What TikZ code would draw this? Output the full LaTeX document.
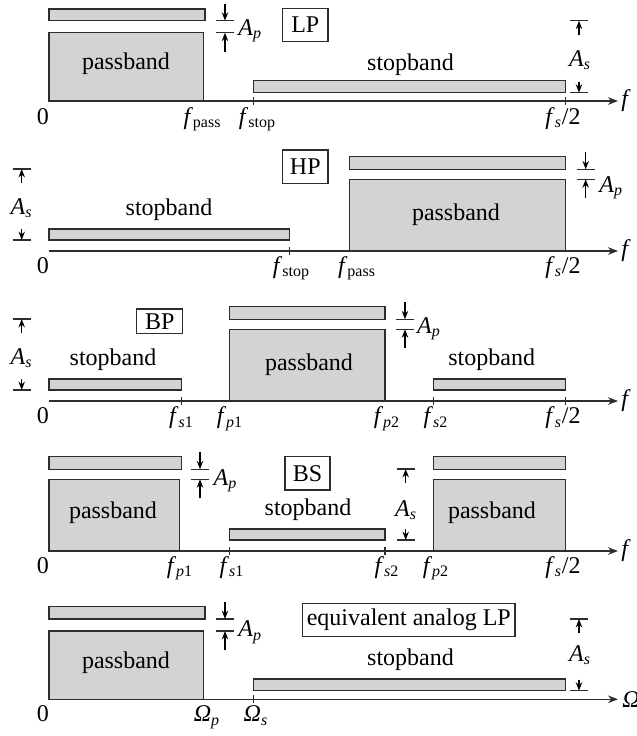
\documentclass[tikz,border=0pt]{standalone}
\usepackage{fontspec}
\setmainfont{Liberation Serif}
\usetikzlibrary{arrows.meta}
\definecolor{bandfill}{RGB}{211,211,211}
\definecolor{edgecol}{RGB}{45,45,45}
\newcommand\apmark[3]{%
  \draw[dimline] (#1-9,#2) -- (#1+9,#2) (#1-9,#3) -- (#1+9,#3);
  \draw[dimarr] (#1,#2-17) -- (#1,#2);
  \draw[dimarr] (#1,#3+19) -- (#1,#3);}
\newcommand\asmark[3]{%
  \draw[dimline] (#1-9,#2) -- (#1+9,#2) (#1-9,#3) -- (#1+9,#3);
  \draw[dimarr] (#1,#2+14) -- (#1,#2);
  \draw[dimarr] (#1,#3-11) -- (#1,#3);}
\newcommand\tickat[2]{\draw[tickline] (#1,#2-4) -- (#1,#2+4);}
\newcommand\fsub[1]{\textit{f}\textsubscript{#1}}
\begin{document}
\begin{tikzpicture}[x=0.5pt,y=-0.5pt,
  band/.style={draw=edgecol, fill=bandfill, line width=0.65pt},
  axisline/.style={draw=edgecol, line width=0.65pt, -{Stealth[length=5pt,width=3.8pt]}},
  tickline/.style={draw=edgecol, line width=0.55pt},
  dimline/.style={draw=edgecol, line width=0.6pt},
  dimarr/.style={draw=black, fill=black, line width=0.6pt, -{Stealth[length=4.2pt,width=3.2pt]}},
  lab/.style={font=\fontsize{12}{14}\selectfont, inner sep=0pt, text=black},
  boxlab/.style={lab, draw=edgecol, line width=0.6pt, minimum height=16.7pt},
 ]
\useasboundingbox (0,0) rectangle (637,736);

% ---------------- Panel 1: LP ----------------
\draw[band] (49,9) rectangle (205,20.7);
\draw[band] (49,32.7) rectangle (203.3,101);
\draw[band] (253.3,80.7) rectangle (565.7,92.7);
\coordinate (o1) at (49,101); \coordinate (e1) at (618,101);
\draw[axisline] (o1) -- (e1);
\tickat{253.3}{101} \tickat{565.7}{101}
\node[lab] (pb1) at (126,64) {passband};
\node[lab] (sb1) at (410.5,65) {stopband};
\node[boxlab, minimum width=22.7pt] (lp) at (305.3,24.8) {LP};
\apmark{225}{20.7}{32.7}
\node[lab, anchor=base west] (ap1) at (238,35) {\textit{A}\textsubscript{\textit{p}}};
\asmark{579}{20.7}{92.7}
\node[lab] (as1) at (580,60) {\textit{A}\textsubscript{\textit{s}}};
\node[lab, anchor=west] (fx1) at (621,101) {\textit{f}};
\node[lab, anchor=base] (z1) at (43,124) {0};
\node[lab, anchor=base] (fpass1) at (202.5,124) {\fsub{pass}};
\node[lab, anchor=base] (fstop1) at (257.5,124) {\fsub{stop}};
\node[lab, anchor=base] (fh1) at (563,124) {\fsub{\textit{s}}/2};

% ---------------- Panel 2: HP ----------------
\draw[band] (49,229) rectangle (289.3,240);
\draw[band] (349.3,156.7) rectangle (565.7,169.3);
\draw[band] (349.3,179.3) rectangle (565.7,251);
\coordinate (o2) at (49,251); \coordinate (e2) at (618,251);
\draw[axisline] (o2) -- (e2);
\tickat{289.3}{251}
\node[lab] (sb2) at (169,210) {stopband};
\node[lab] (pb2) at (456,215) {passband};
\node[boxlab, minimum width=22.7pt] (hp) at (305.3,166.7) {HP};
\asmark{21.7}{169}{240}
\node[lab] (as2) at (21.7,208) {\textit{A}\textsubscript{\textit{s}}};
\apmark{585.7}{169.3}{179.3}
\node[lab, anchor=base west] (ap2) at (599,192) {\textit{A}\textsubscript{\textit{p}}};
\node[lab, anchor=west] (fx2) at (621,251) {\textit{f}};
\node[lab, anchor=base] (z2) at (43,273) {0};
\node[lab, anchor=base] (fstop2) at (291.5,273) {\fsub{stop}};
\node[lab, anchor=base] (fpass2) at (357,273) {\fsub{pass}};
\node[lab, anchor=base] (fh2) at (563,273) {\fsub{\textit{s}}/2};

% ---------------- Panel 3: BP ----------------
\draw[band] (49,379) rectangle (181.7,390);
\draw[band] (229.3,306.7) rectangle (385,319.3);
\draw[band] (229.3,329.3) rectangle (385,401);
\draw[band] (433.3,379) rectangle (565.7,390);
\coordinate (o3) at (49,401); \coordinate (e3) at (618,401);
\draw[axisline] (o3) -- (e3);
\tickat{181.7}{401} \tickat{433.3}{401} \tickat{565.7}{401}
\node[lab] (sb3a) at (113,360) {stopband};
\node[lab] (pb3) at (309,365) {passband};
\node[lab] (sb3b) at (491.7,360) {stopband};
\node[boxlab, minimum width=23pt, minimum height=12.2pt] (bp) at (159.7,321.2) {BP};
\asmark{21.7}{319}{390}
\node[lab] (as3) at (21.7,358) {\textit{A}\textsubscript{\textit{s}}};
\apmark{405}{319.3}{329.3}
\node[lab, anchor=base west] (ap3) at (416.7,333.3) {\textit{A}\textsubscript{\textit{p}}};
\node[lab, anchor=west] (fx3) at (621,401) {\textit{f}};
\node[lab, anchor=base] (z3) at (43,423.5) {0};
\node[lab, anchor=base] (fs13) at (181.5,423.5) {\fsub{\textit{s}1}};
\node[lab, anchor=base] (fp13) at (230,423.5) {\fsub{\textit{p}1}};
\node[lab, anchor=base] (fp23) at (387,423.5) {\fsub{\textit{p}2}};
\node[lab, anchor=base] (fs23) at (436,423.5) {\fsub{\textit{s}2}};
\node[lab, anchor=base] (fh3) at (563,423.5) {\fsub{\textit{s}}/2};

% ---------------- Panel 4: BS ----------------
\draw[band] (49,456.7) rectangle (181.7,469.3);
\draw[band] (49,479.3) rectangle (179.3,551);
\draw[band] (229.3,529) rectangle (385,540);
\draw[band] (433.3,456.7) rectangle (565.7,469.3);
\draw[band] (433.3,479.3) rectangle (565.7,551);
\coordinate (o4) at (49,551); \coordinate (e4) at (618,551);
\draw[axisline] (o4) -- (e4);
\tickat{229.3}{551} \tickat{385}{551}
\node[lab] (pb4a) at (113,513) {passband};
\node[lab] (sb4) at (308,510) {stopband};
\node[lab] (pb4b) at (492,513) {passband};
\node[boxlab, minimum width=22.5pt] (bs) at (307.5,473.3) {BS};
\apmark{200}{469.3}{479.3}
\node[lab, anchor=base west] (ap4) at (213.3,485) {\textit{A}\textsubscript{\textit{p}}};
\asmark{405.7}{469}{540}
\node[lab] (as4) at (406,510) {\textit{A}\textsubscript{\textit{s}}};
\node[lab, anchor=west] (fx4) at (621,551) {\textit{f}};
\node[lab, anchor=base] (z4) at (43,573) {0};
\node[lab, anchor=base] (fp14) at (180,573) {\fsub{\textit{p}1}};
\node[lab, anchor=base] (fs14) at (232,573) {\fsub{\textit{s}1}};
\node[lab, anchor=base] (fs24) at (387,573) {\fsub{\textit{s}2}};
\node[lab, anchor=base] (fp24) at (436,573) {\fsub{\textit{p}2}};
\node[lab, anchor=base] (fh4) at (563,573) {\fsub{\textit{s}}/2};

% ---------------- Panel 5: analog LP ----------------
\draw[band] (49,606.7) rectangle (205,619);
\draw[band] (49,631) rectangle (203.3,699.3);
\draw[band] (253.3,679) rectangle (565.7,690.7);
\coordinate (o5) at (49,699.3); \coordinate (e5) at (618,699.3);
\draw[axisline] (o5) -- (e5);
\tickat{253.3}{699.3}
\node[lab] (pb5) at (126,663) {passband};
\node[lab] (sb5) at (410.5,660) {stopband};
\node[boxlab, minimum width=106.2pt] (eq) at (408.8,620) {equivalent analog LP};
\apmark{225}{619}{631}
\node[lab, anchor=base west] (ap5) at (238,636.7) {\textit{A}\textsubscript{\textit{p}}};
\asmark{579}{619}{690.7}
\node[lab] (as5) at (580,655) {\textit{A}\textsubscript{\textit{s}}};
\node[lab, anchor=west] (wx5) at (622,699.3) {\textit{Ω}};
\node[lab, anchor=base] (z5) at (43,721.7) {0};
\node[lab, anchor=base] (wp5) at (207,721.7) {\textit{Ω}\textsubscript{\textit{p}}};
\node[lab, anchor=base] (ws5) at (256,721.7) {\textit{Ω}\textsubscript{\textit{s}}};
\end{tikzpicture}
\end{document}
